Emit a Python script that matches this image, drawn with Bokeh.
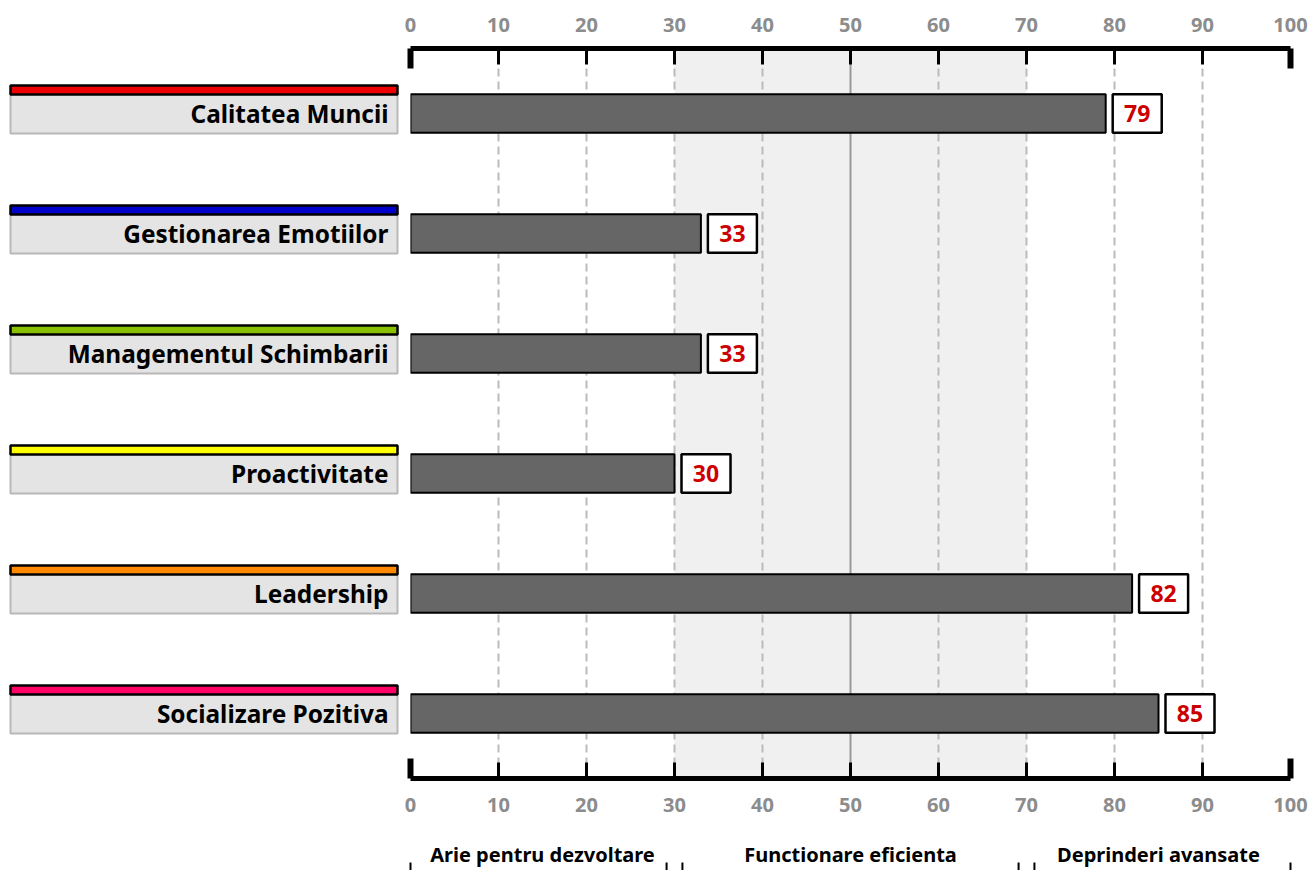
from bokeh.plotting import figure
from bokeh.layouts import row, column
from bokeh.models import (ColumnDataSource, Range1d, FactorRange,
                          FixedTicker, Grid, BoxAnnotation, Spacer)
from bokeh.core.properties import value
from bokeh.transform import dodge
from bokeh.embed import file_html
from bokeh.resources import INLINE

# ---- data ----
categories = ["Calitatea Muncii", "Gestionarea Emotiilor", "Managementul Schimbarii",
              "Proactivitate", "Leadership", "Socializare Pozitiva"]
scores = [79, 33, 33, 30, 82, 85]
stripe_colors = ["#ee0000", "#0000cc", "#88c000", "#ffff00", "#ff8800", "#ff0066"]
tick_values = [0, 10, 20, 30, 40, 50, 60, 70, 80, 90, 100]
band_names = ["Arie pentru dezvoltare", "Functionare eficienta", "Deprinderi avansate"]
band_edges = [0, 30, 70, 100]

FONT = value("Noto Sans")
EDGE = 5 / 120        # padding added on each side of the category rows
ROW_PX = 120          # pixel height of one category row
TOP_H, MAIN_H, BOT_H = 40, 746, 84
LEFT_W, RIGHT_W = 400, 911

src = ColumnDataSource(dict(
    cat=categories,
    score=scores,
    label=[str(s) for s in scores],
    stripe=stripe_colors,
))

y_range = FactorRange(factors=categories[::-1], range_padding=EDGE,
                      range_padding_units="absolute")
x_range = Range1d(0, 100)


def bare(fig):
    fig.xgrid.grid_line_color = None
    fig.ygrid.grid_line_color = None
    return fig


# ---- left column with the category name plates ----
left = bare(figure(width=LEFT_W, height=MAIN_H, x_range=Range1d(0, 400), y_range=y_range,
                   x_axis_location=None, y_axis_location=None,
                   output_backend="svg", toolbar_location=None,
                   min_border_left=0, min_border_right=0,
                   min_border_top=8, min_border_bottom=8, outline_line_color=None))
left.rect(x=203.5, y="cat", width=387, height=0.333, source=src,
          fill_color="#e4e4e4", line_color="#b8b8b8", line_width=2)
left.rect(x=203.5, y=dodge("cat", 0.196, range=y_range), width=387, height=0.075,
          source=src, fill_color="stripe", line_color="black", line_width=2.5)
left.text(x=388, y="cat", text="cat", source=src, text_align="right",
          text_baseline="middle", text_font=FONT, text_font_style="bold",
          text_font_size="24.4px", text_color="black")

# ---- main chart ----
p = bare(figure(width=RIGHT_W, height=MAIN_H, x_range=x_range, y_range=y_range,
                x_axis_location=None, y_axis_location=None,
                output_backend="svg", toolbar_location=None,
                min_border_left=10, min_border_right=21,
                min_border_top=8, min_border_bottom=8, outline_line_color=None))

# shaded middle band
p.add_layout(BoxAnnotation(left=band_edges[1], right=band_edges[2],
                           fill_color="#f0f0f0", fill_alpha=1.0,
                           line_color=None, level="underlay"))

dashed = [t for t in tick_values if t not in (0, 50, 100)]
solid = [0, 50, 100]
p.add_layout(Grid(dimension=0, ticker=FixedTicker(ticks=dashed),
                  grid_line_color="#bbbbbb", grid_line_width=2,
                  grid_line_dash="8 5"))
p.add_layout(Grid(dimension=0, ticker=FixedTicker(ticks=solid),
                  grid_line_color="#999999", grid_line_width=2))

# scale frame: heavy rules along top and bottom with inward ticks
top_y = len(categories) + EDGE
bot_y = -EDGE
inner = [t for t in tick_values if t not in (tick_values[0], tick_values[-1])]
ends_x = [tick_values[0], tick_values[-1]]
short = 16 / ROW_PX
long_ = 20 / ROW_PX
for edge, sign in ((top_y, -1), (bot_y, 1)):
    p.segment(x0=[tick_values[0]], x1=[tick_values[-1]], y0=[edge], y1=[edge],
              line_color="black", line_width=5, level="overlay")
    p.segment(x0=inner, x1=inner, y0=[edge] * len(inner),
              y1=[edge + sign * short] * len(inner),
              line_color="black", line_width=3, level="overlay")
    p.segment(x0=ends_x, x1=ends_x, y0=[edge] * 2, y1=[edge + sign * long_] * 2,
              line_color="black", line_width=6, level="overlay")

# bars
p.hbar(y="cat", left=0, right="score", height=0.32, source=src,
       fill_color="#666666", line_color="black", line_width=2)

# value boxes
p.rect(x=dodge("score", 3.58, range=x_range), y="cat", width=5.57, height=0.32,
       source=src, fill_color="white", line_color="black", line_width=2.5)
p.text(x=dodge("score", 3.58, range=x_range), y="cat", text="label", source=src,
       text_align="center", text_baseline="middle", text_font=FONT,
       text_font_style="bold", text_font_size="23px", text_color="#cc0000")


def strip(height):
    return bare(figure(width=RIGHT_W, height=height, x_range=x_range,
                       y_range=Range1d(height, 0),
                       x_axis_location=None, y_axis_location=None,
                       output_backend="svg", toolbar_location=None,
                       min_border_left=10, min_border_right=21,
                       min_border_top=0, min_border_bottom=0,
                       outline_line_color=None))


tick_text = [str(t) for t in tick_values]
TICK_STYLE = dict(text_align="center", text_baseline="middle", text_font=FONT,
                  text_font_style="bold", text_font_size="20px",
                  text_color="#8c8c8c", level="overlay")

# ---- scale numbers above ----
top = strip(TOP_H)
top.text(x=tick_values, y=[24] * len(tick_values), text=tick_text, **TICK_STYLE)

# ---- scale numbers and band captions below ----
bot = strip(BOT_H)
bot.text(x=tick_values, y=[18] * len(tick_values), text=tick_text, **TICK_STYLE)

mids = [(band_edges[i] + band_edges[i + 1]) / 2 for i in range(len(band_names))]
bot.text(x=mids, y=[68] * len(mids), text=band_names, text_align="center",
         text_baseline="middle", text_font=FONT, text_font_style="bold",
         text_font_size="20px", text_color="black", level="overlay")

gap = 0.9
ends = []
for i in range(len(band_names)):
    lo, hi = band_edges[i], band_edges[i + 1]
    ends.append(lo + (gap if lo > 0 else 0))
    ends.append(hi - (gap if hi < 100 else 0))
bot.segment(x0=ends, x1=ends, y0=[76] * len(ends), y1=[BOT_H] * len(ends),
            line_color="black", line_width=2, level="overlay")

layout = row(
    column(Spacer(width=LEFT_W, height=TOP_H), left,
           Spacer(width=LEFT_W, height=BOT_H), spacing=0),
    column(top, p, bot, spacing=0),
    spacing=0,
)
open("out.html", "w").write(file_html(layout, INLINE))
